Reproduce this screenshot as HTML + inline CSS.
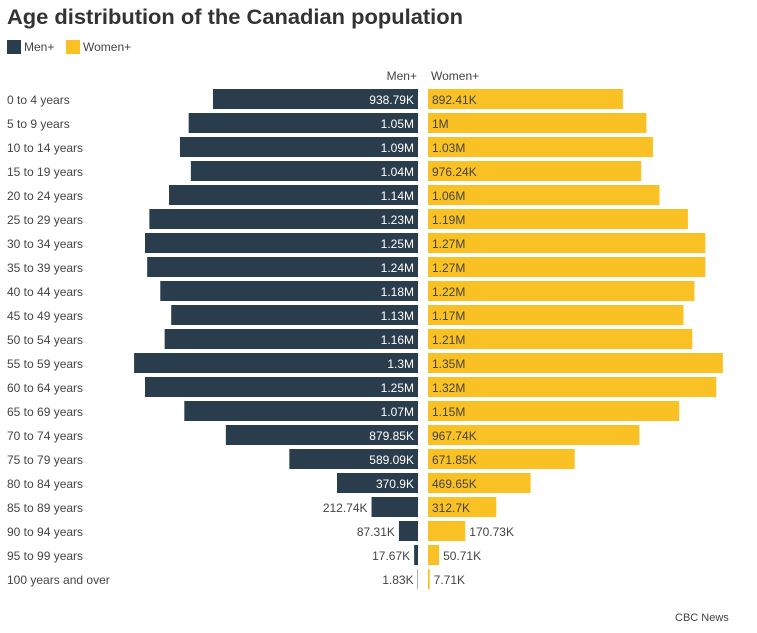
<!DOCTYPE html>
<html><head><meta charset="utf-8">
<style>
body{margin:0;background:#fff;width:757px;height:628px;overflow:hidden;font-family:"Liberation Sans",sans-serif;}
svg text{font-family:"Liberation Sans",sans-serif;}
</style></head>
<body>
<svg id="chart" width="757" height="628">
<text x="7" y="24" font-size="21" font-weight="bold" fill="#333" textLength="456" lengthAdjust="spacingAndGlyphs">Age distribution of the Canadian population</text>
<g>
<rect x="7" y="40" width="14" height="14" fill="#2a3d4c"/>
<text x="24" y="51" font-size="12" fill="#444">Men+</text>
<rect x="66" y="40" width="14" height="14" fill="#f9c124"/>
<text x="83" y="51" font-size="12" fill="#444">Women+</text>
</g>
<text x="417" y="80" font-size="12" fill="#444" text-anchor="end">Men+</text>
<text x="431" y="80" font-size="12" fill="#444">Women+</text>
<g id="rows"></g>
<text x="675" y="621" font-size="11" fill="#444">CBC News</text>
</svg>
<script>
const categories=["0 to 4 years","5 to 9 years","10 to 14 years","15 to 19 years","20 to 24 years","25 to 29 years","30 to 34 years","35 to 39 years","40 to 44 years","45 to 49 years","50 to 54 years","55 to 59 years","60 to 64 years","65 to 69 years","70 to 74 years","75 to 79 years","80 to 84 years","85 to 89 years","90 to 94 years","95 to 99 years","100 years and over"];
const menValues=[938790,1050000,1090000,1040000,1140000,1230000,1250000,1240000,1180000,1130000,1160000,1300000,1250000,1070000,879850,589090,370900,212740,87310,17670,1830];
const womenValues=[892410,1000000,1030000,976240,1060000,1190000,1270000,1270000,1220000,1170000,1210000,1350000,1320000,1150000,967740,671850,469650,312700,170730,50710,7710];
const menLabels=["938.79K","1.05M","1.09M","1.04M","1.14M","1.23M","1.25M","1.24M","1.18M","1.13M","1.16M","1.3M","1.25M","1.07M","879.85K","589.09K","370.9K","212.74K","87.31K","17.67K","1.83K"];
const womenLabels=["892.41K","1M","1.03M","976.24K","1.06M","1.19M","1.27M","1.27M","1.22M","1.17M","1.21M","1.35M","1.32M","1.15M","967.74K","671.85K","469.65K","312.7K","170.73K","50.71K","7.71K"];

const NS="http://www.w3.org/2000/svg";
const pxPerUnit=218.4/1e6;
const menRight=418, womenLeft=428;
const w=v=>v*pxPerUnit;
const yc=i=>99+i*24;
const g=document.getElementById('rows');
function mk(tag,attrs){const e=document.createElementNS(NS,tag);for(const k in attrs)e.setAttribute(k,attrs[k]);g.appendChild(e);return e;}
categories.forEach((c,i)=>{
  const y=yc(i);
  let t=mk('text',{x:7,y:y+5,'font-size':12,fill:'#444'});t.textContent=c;
  
  
  const mw=w(menValues[i]);
  let r=mk('rect',{x:menRight-mw,y:y-10,width:mw,height:20,fill:'#2a3d4c'});
  
  
  const mIn=mw>60;
  let ml=mk('text',{x:mIn?menRight-4:menRight-mw-4,y:y+5,'font-size':12,'text-anchor':'end',fill:mIn?'#fff':'#444'});ml.textContent=menLabels[i];
  
  
  const ww=w(womenValues[i]);
  let r2=mk('rect',{x:womenLeft,y:y-10,width:ww,height:20,fill:'#f9c124'});
  
  
  const wIn=ww>50;
  let wl=mk('text',{x:wIn?womenLeft+4:womenLeft+ww+4,y:y+5,'font-size':12,fill:'#444'});wl.textContent=womenLabels[i];
  
  
});
</script>
</body></html>
